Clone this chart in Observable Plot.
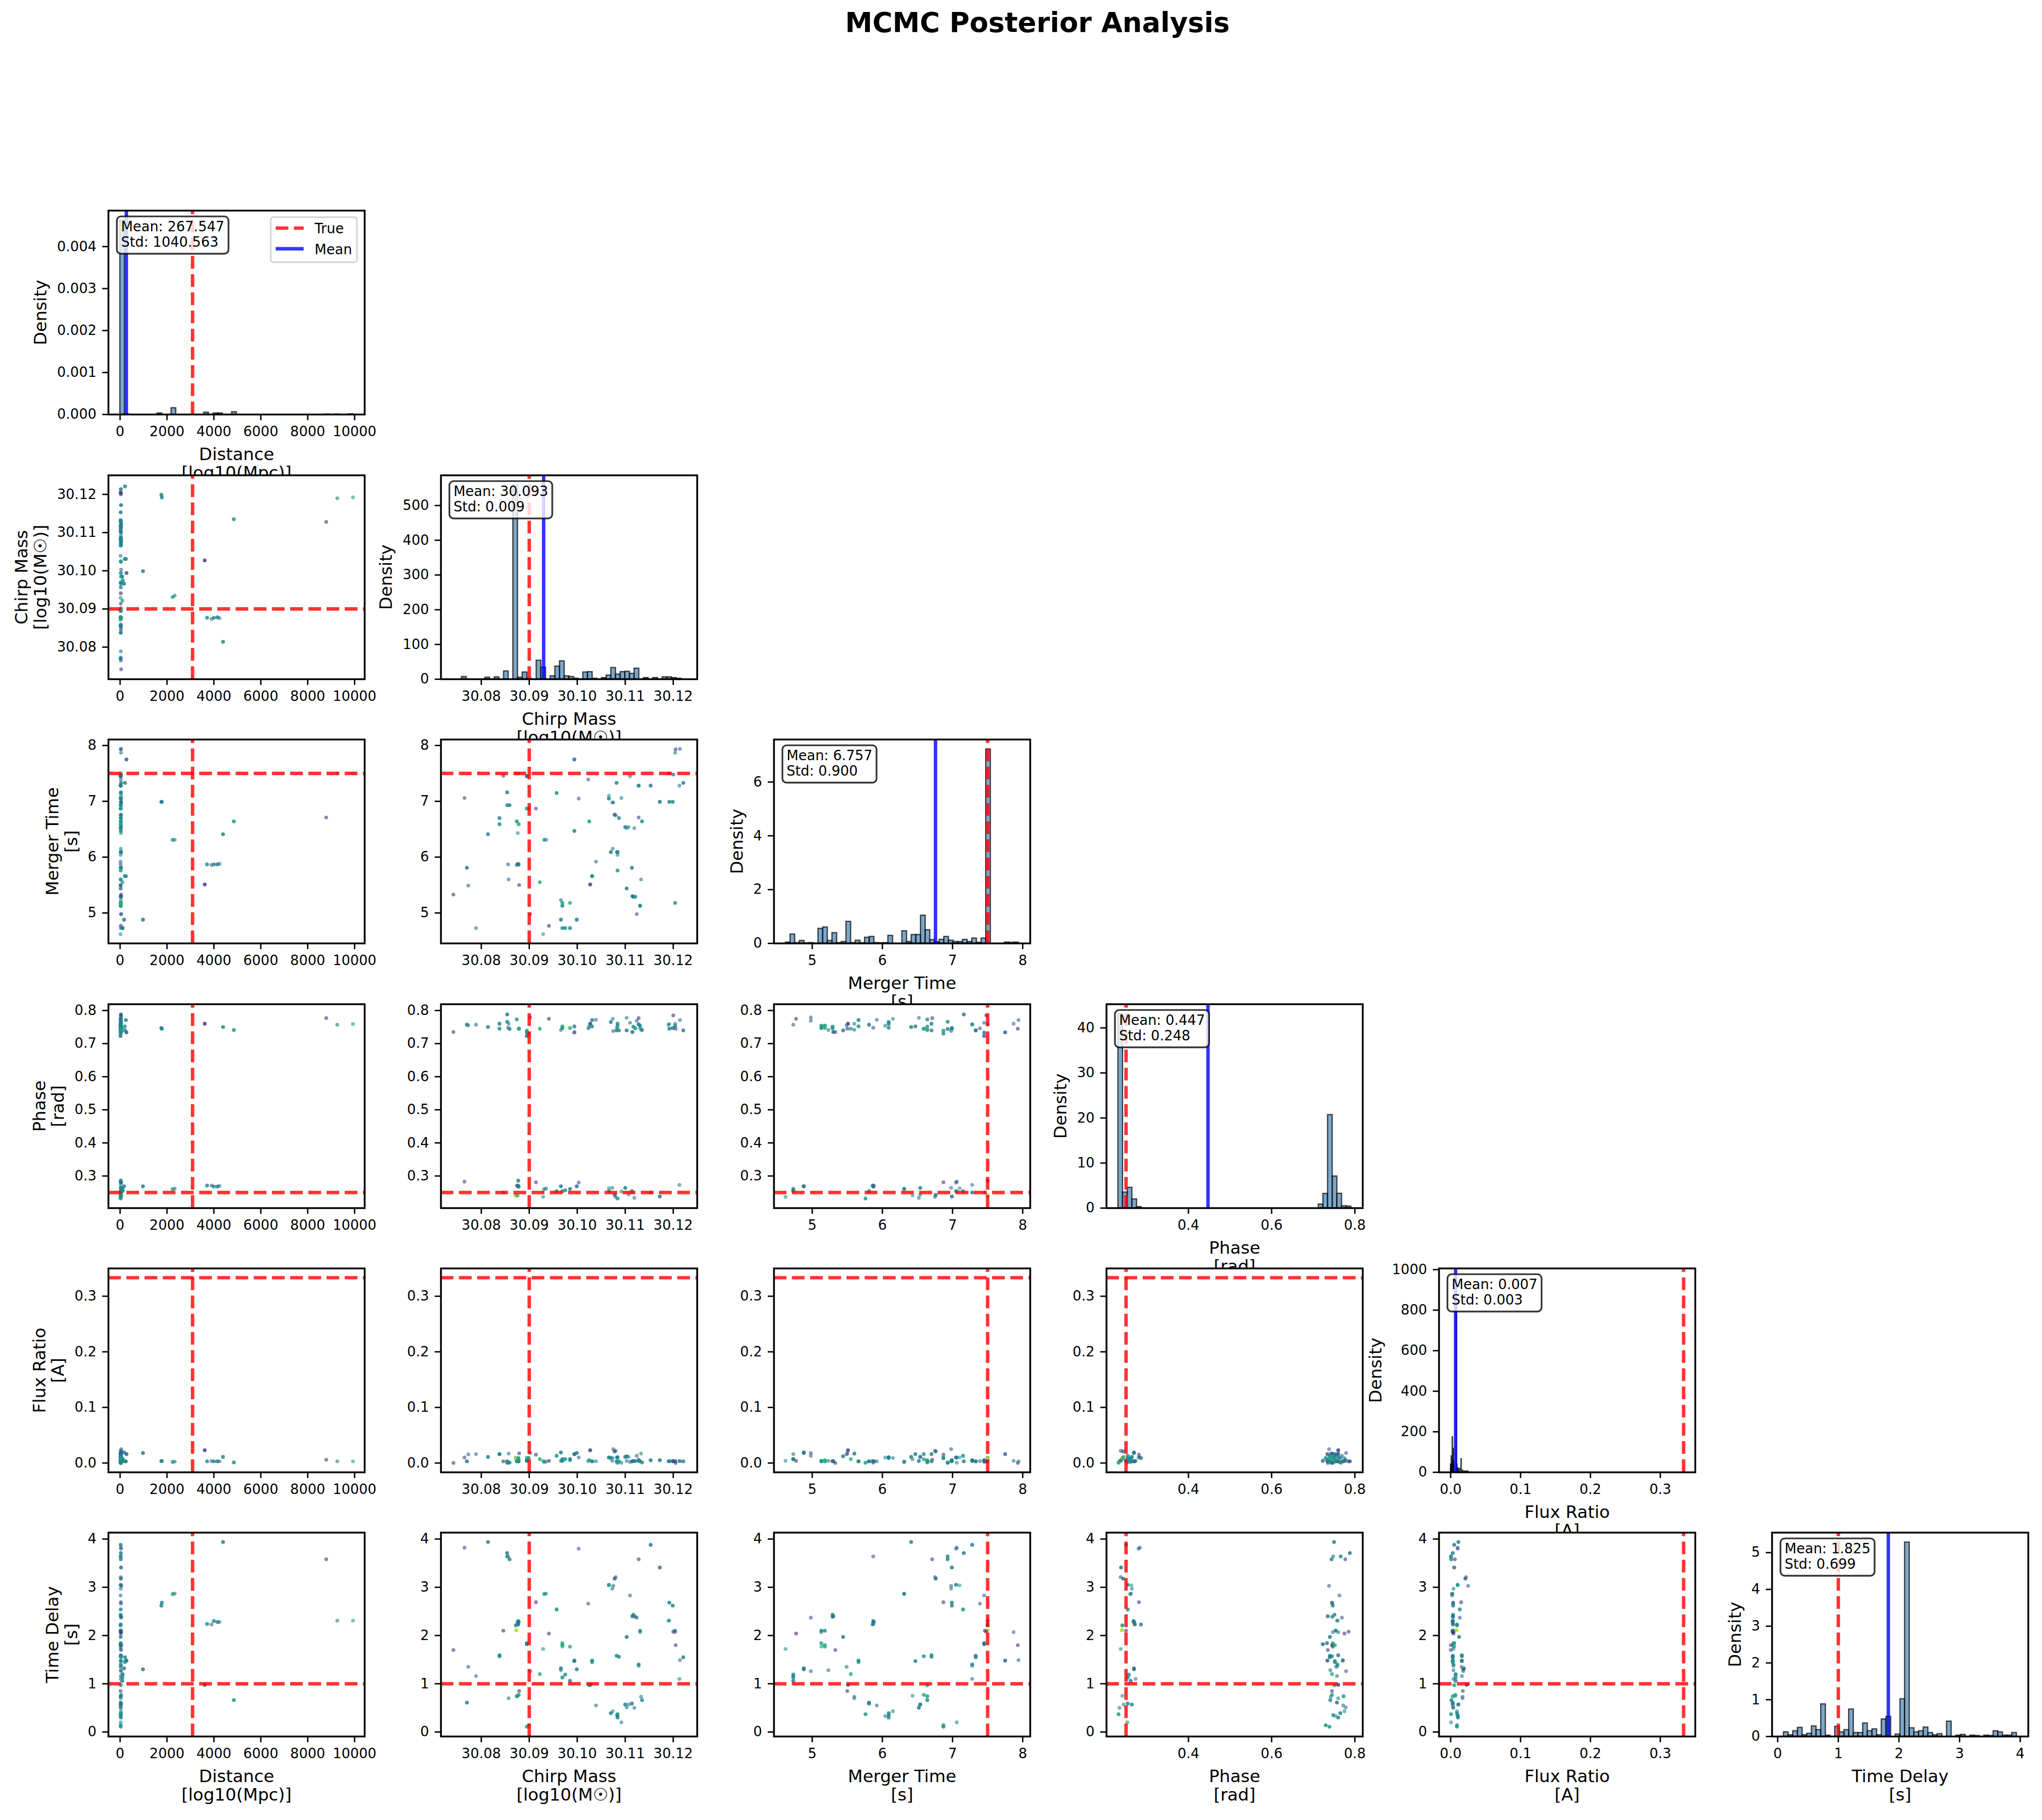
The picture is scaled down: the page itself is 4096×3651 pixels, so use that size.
<!DOCTYPE html>
<html>
<head>
<meta charset="utf-8">
<script src="https://cdn.jsdelivr.net/npm/d3@7"></script>
<script src="https://cdn.jsdelivr.net/npm/@observablehq/plot@0.6"></script>
<style>
html,body{margin:0;padding:0;background:#fff;}
#fig{position:relative;width:4096px;height:3651px;background:#fff;overflow:hidden;font-family:"DejaVu Sans",sans-serif;}
#fig > svg{position:absolute;overflow:visible;}
#title{position:absolute;left:0;width:4162px;top:18px;text-align:center;font:bold 55px/1 "DejaVu Sans",sans-serif;color:#000;}
</style>
</head>
<body>
<div id="fig"><div id="title">MCMC Posterior Analysis</div></div>
<script>
// ---------------- parameters ----------------
const paramNames = ["Distance", "Chirp Mass", "Merger Time", "Phase", "Flux Ratio", "Time Delay"];
const paramUnits = ["[log10(Mpc)]", "[log10(M☉)]", "[s]", "[rad]", "[A]", "[s]"];
const trueValues = [3090, 30.09, 7.5, 0.25, 0.3333, 1.0];
const meanValues = [267.547, 30.093, 6.757, 0.447, 0.007, 1.825];
const stdValues = [1040.563, 0.009, 0.900, 0.248, 0.003, 0.699];

// axis limits and tick labels
const axisDomains = [[-497, 10430], [30.0716, 30.1250], [4.455, 8.107], [0.203, 0.819], [-0.01667, 0.35], [-0.093, 4.133]];
const xTickValues = [[0, 2000, 4000, 6000, 8000, 10000], [30.08, 30.09, 30.10, 30.11, 30.12], [5, 6, 7, 8], [0.4, 0.6, 0.8], [0.0, 0.1, 0.2, 0.3], [0, 1, 2, 3, 4]];
const yTickValues = [[0, 2000, 4000, 6000, 8000, 10000], [30.08, 30.09, 30.10, 30.11, 30.12], [5, 6, 7, 8], [0.3, 0.4, 0.5, 0.6, 0.7, 0.8], [0.0, 0.1, 0.2, 0.3], [0, 1, 2, 3, 4]];
const tickFormats = ["d", ".2f", "d", ".1f", ".1f", "d"];
const densityTicks = [[0, 0.001, 0.002, 0.003, 0.004], [0, 100, 200, 300, 400, 500], [0, 2, 4, 6], [0, 10, 20, 30, 40], [0, 200, 400, 600, 800, 1000], [0, 1, 2, 3, 4, 5]];
const densityFormats = [".3f", "d", "d", "d", "d", "d"];

// ---------------- thinned MCMC samples (scatter panels) ----------------
const distance = [
 4390,25,30,45,35,20,28,8790,30,40,
 30,35,25,40,50,30,2240,2330,20,30,
 1780,35,1760,30,25,40,45,30,9930,9260,
 4000,4150,4240,3710,3900,30,20,30,35,25,
 30,40,20,30,35,25,30,20,30,40,
 25,35,30,20,45,30,25,40,35,210,
 40,270,30,250,200,30,35,25,170,975,
 30,40,100,110,30,100,25,90,3610,30,
 20,40,30,35,20,30,4850,25,40,30,
 35,20,30,25,30,35,25,30,20,35,
 30,25,30];
const chirpMass = [
 30.0814,30.1153,30.0765,30.1003,30.0854,30.0856,30.0854,30.1128,30.0859,30.1172,
 30.1080,30.1078,30.1066,30.1066,30.1075,30.1073,30.0931,30.0935,30.1110,30.0914,
 30.1192,30.1023,30.1199,30.0957,30.1117,30.1121,30.1124,30.1115,30.1192,30.1190,
 30.0877,30.0878,30.0876,30.0877,30.0874,30.0877,30.0872,30.0873,30.0846,30.1131,
 30.1131,30.1204,30.1204,30.0941,30.1200,30.1103,30.0895,30.0895,30.0969,30.0969,
 30.0969,30.0985,30.1205,30.0929,30.0742,30.0838,30.0838,30.1082,30.1087,30.1221,
 30.1214,30.0994,30.0994,30.1031,30.1031,30.1128,30.1128,30.0773,30.0966,30.0999,
 30.0966,30.0902,30.0922,30.0975,30.0789,30.0969,30.1213,30.0985,30.1027,30.1025,
 30.0879,30.0878,30.0874,30.0876,30.1133,30.0857,30.1135,30.0770,30.1114,30.1107,
 30.1100,30.1039,30.1103,30.1119,30.1074,30.1070,30.1084,30.1083,30.1084,30.1084,
 30.1092,30.0899,30.0895];
const mergerTime = [
 6.41,7.28,7.06,7.05,7.16,5.87,6.93,6.71,6.93,6.99,
 6.75,6.76,7.05,7.10,6.98,6.98,6.31,6.31,7.45,6.87,
 6.99,7.39,6.99,7.15,5.29,5.29,4.98,5.30,7.50,7.50,
 5.87,5.87,5.88,5.87,5.86,7.50,7.50,7.50,7.46,5.13,
 5.13,7.87,5.18,4.77,7.48,5.44,7.45,7.45,5.13,5.18,
 5.13,5.18,7.93,4.62,5.33,6.70,6.59,7.33,6.70,7.33,
 7.94,7.75,6.47,5.66,5.66,7.28,7.28,5.49,4.88,4.88,
 5.23,4.98,5.55,4.73,4.73,4.73,7.28,4.73,5.51,6.64,
 5.50,6.59,6.64,6.43,5.60,5.60,6.64,5.81,5.81,6.54,
 6.54,5.92,6.52,6.52,6.15,6.09,5.76,6.09,6.04,6.09,
 7.06,6.87,6.87];
const phase = [
 0.750,0.250,0.283,0.280,0.788,0.748,0.766,0.777,0.744,0.238,
 0.237,0.243,0.254,0.263,0.738,0.264,0.260,0.262,0.763,0.281,
 0.745,0.746,0.747,0.254,0.751,0.746,0.769,0.735,0.759,0.757,
 0.268,0.268,0.270,0.271,0.271,0.286,0.241,0.240,0.250,0.754,
 0.747,0.760,0.754,0.775,0.785,0.740,0.733,0.723,0.747,0.752,
 0.747,0.747,0.745,0.237,0.735,0.760,0.745,0.740,0.740,0.740,
 0.771,0.734,0.752,0.771,0.752,0.758,0.758,0.755,0.269,0.269,
 0.741,0.779,0.745,0.257,0.757,0.254,0.273,0.261,0.760,0.751,
 0.745,0.745,0.773,0.241,0.742,0.760,0.741,0.757,0.254,0.244,
 0.264,0.772,0.778,0.234,0.775,0.765,0.232,0.748,0.754,0.760,
 0.253,0.730,0.739];
const fluxRatio = [
 0.011,0.005,0.010,0.010,0.003,0.0005,0.0005,0.006,0.0007,0.005,
 0.022,0.021,0.010,0.010,0.025,0.004,0.002,0.0025,0.002,0.015,
 0.0035,0.0035,0.0035,0.013,0.0035,0.0035,0.013,0.003,0.003,0.003,
 0.003,0.003,0.003,0.003,0.0035,0.009,0.009,0.0082,0.003,0.003,
 0.003,0.004,0.003,0.004,0.003,0.012,0.005,0.004,0.004,0.004,
 0.004,0.005,0.0002,0.004,0.0002,0.016,0.016,0.003,0.003,0.003,
 0.003,0.016,0.016,0.003,0.003,0.004,0.004,0.0155,0.019,0.018,
 0.004,0.018,0.007,0.007,0.016,0.007,0.004,0.007,0.023,0.005,
 0.0174,0.0067,0.003,0.0067,0.017,0.017,0.001,0.003,0.003,0.011,
 0.011,0.003,0.0037,0.0037,0.009,0.009,0.0005,0.010,0.010,0.0105,
 0.0005,0.009,0.009];
const timeDelay = [
 3.94,3.88,3.82,3.80,3.71,3.64,3.64,3.58,3.58,3.41,
 3.21,3.18,3.05,3.04,3.03,2.97,2.86,2.87,2.83,2.69,
 2.68,2.66,2.62,2.54,2.43,2.39,2.37,2.40,2.31,2.31,
 2.30,2.28,2.28,2.24,2.23,2.23,2.21,2.11,2.10,2.10,
 2.07,2.07,2.10,2.04,2.08,1.97,1.84,1.82,1.84,1.80,
 1.77,1.77,1.80,1.72,1.70,1.59,1.57,1.58,1.56,1.55,
 1.49,1.48,1.47,1.48,1.45,1.40,1.37,1.35,1.32,1.30,
 1.28,1.26,1.20,1.19,1.16,1.13,1.10,1.06,0.98,0.97,
 0.85,0.77,0.74,0.75,0.73,0.70,0.66,0.61,0.59,0.57,
 0.57,0.55,0.51,0.50,0.43,0.39,0.37,0.35,0.33,0.30,
 0.20,0.14,0.11];
// relative log-probability (colour value, viridis)
const logProb = [
 0.45,0.40,0.22,0.30,0.42,0.30,0.50,0.15,0.48,0.38,
 0.30,0.35,0.45,0.55,0.30,0.40,0.62,0.35,0.35,0.15,
 0.45,0.30,0.45,0.50,0.50,0.52,0.30,0.35,0.55,0.40,
 0.50,0.45,0.35,0.50,0.30,0.45,0.50,0.88,0.10,0.50,
 0.45,0.40,0.50,0.10,0.12,0.42,0.45,0.35,0.62,0.62,
 0.55,0.65,0.15,0.50,0.15,0.45,0.50,0.45,0.50,0.45,
 0.35,0.30,0.45,0.45,0.50,0.50,0.45,0.35,0.40,0.40,
 0.35,0.30,0.65,0.50,0.35,0.50,0.40,0.45,0.18,0.55,
 0.15,0.62,0.55,0.50,0.40,0.40,0.50,0.40,0.45,0.40,
 0.45,0.35,0.40,0.40,0.45,0.45,0.55,0.50,0.45,0.45,
 0.45,0.50,0.55];
// how many times the chain repeated each sample
const repeats = [
 2,2,1,1,2,1,2,1,2,2,
 1,2,2,1,1,1,2,1,1,1,
 2,1,2,2,2,2,1,2,1,1,
 2,2,1,2,1,2,2,3,1,2,
 1,1,2,1,1,2,2,2,2,2,
 1,2,1,1,1,2,2,2,2,2,
 1,2,2,2,2,2,1,1,2,2,
 1,1,2,2,1,2,1,2,2,2,
 1,2,2,1,1,1,2,2,2,1,
 2,1,1,1,1,2,2,2,1,2,
 1,2,2];

// ---------------- histogram densities (50 bins each, full chain) ----------------
const histLo = [0, 30.0740, 4.621, 0.231, 0.0, 0.099];
const histHi = [9934, 30.1226, 7.941, 0.791, 0.025, 3.941];
const distanceDensity = [0.004626,0.00001,0,0,0,0,0,0,0.00003,0, 0,0.000155,0,0,0,0,0,0,0.00005,0, 0.00003,0.00003,0,0,0.00006,0,0,0,0,0, 0,0,0,0,0,0,0,0,0,0, 0,0,0,0,0.000005,0,0.000005,0,0,0.00001];
const chirpDensity = [0,0,7,0,0,0,0,5,0,6, 0,23,0,559,5,20,2,0,54,34, 0,9,37,52,9,7,2,0,20,21, 2,0,4,11,33,14,21,22,16,31, 0,4,0,4,0,6,6,4,2,0];
const mergerDensity = [0.04,0.34,0.02,0.10,0.01,0.02,0,0.55,0.60,0.10, 0.39,0.02,0.06,0.81,0.02,0.11,0.02,0.22,0.25,0.02, 0.01,0.02,0.29,0,0,0.46,0.06,0.32,0.32,1.04, 0.50,0.13,0.05,0.14,0.25,0.11,0.06,0.06,0.14,0.06, 0.19,0.03,0.19,7.22,0,0,0,0.04,0.03,0.04];
const phaseDensity = [43.1,3.5,4.56,1.98,0.27,0,0,0,0,0, 0,0,0,0,0,0,0,0,0,0, 0,0,0,0,0,0,0,0,0,0, 0,0,0,0,0,0,0,0,0,0, 0,0,0,0.84,3.2,20.7,7.07,3.23,0.46,0.38];
const fluxDensity = [39,20,80,40,0,174,60,0,117,50, 0,0,0,0,0,0,958,0,39,0, 20,0,18,0,0,0,18,0,0,0, 66,0,0,0,10,0,0,0,5,0, 0,0,5,0,0,0,5,0,0,5];
const delayDensity = [0.12,0.04,0.15,0.24,0.04,0.08,0.28,0.18,0.88,0.03, 0,0.27,0.12,0.18,0.74,0.10,0.10,0.36,0.15,0.20, 0.04,0.47,0.54,0,0.06,1.02,5.28,0.23,0.12,0.15, 0.25,0.10,0.04,0.07,0,0.41,0,0.03,0.05,0, 0.03,0.02,0,0.03,0.02,0.15,0.12,0.03,0.03,0.10];

// ---------------- layout / style ----------------
const samples = [distance, chirpMass, mergerTime, phase, fluxRatio, timeDelay];
const densities = [distanceDensity, chirpDensity, mergerDensity, phaseDensity, fluxDensity, delayDensity];
const W = 514, H = 409;
const COL0 = 217, COLSTEP = 667.3, ROW0 = 422.3, ROWSTEP = 530.4;
const ML = 200, MT = 15, MR = 15, MB = 150;
const FS_TICK = 27.6, FS_LABEL = 34.5, LINE_GAP = 37.7;
const DASH = "25.5 11";
const LW = 6.9;
const FONT = "DejaVu Sans";

const ctx = document.createElement("canvas").getContext("2d");
function textWidth(s, fs) { ctx.font = `${fs}px "${FONT}"`; return ctx.measureText(s).width; }
function ticksWidth(ticks, fmt) { const f = d3.format(fmt); return d3.max(ticks, t => textWidth(f(t), FS_TICK)); }

const pointIndex = repeats.flatMap((n, i) => Array(n).fill(i));

function axes(xt, xf, yt, yf) {
  return [
    Plot.axisX({ticks: xt, tickFormat: d3.format(xf), tickSize: 12, tickPadding: 12, fontSize: FS_TICK, strokeWidth: 2.8, label: null, anchor: "bottom"}),
    Plot.axisY({ticks: yt, tickFormat: d3.format(yf), tickSize: 12, tickPadding: 12, fontSize: FS_TICK, strokeWidth: 2.8, label: null, anchor: "left"})
  ];
}
function xLabelMarks(p) {
  return [paramNames[p], paramUnits[p]].map((t, k) => Plot.text([t], {text: d => d, frameAnchor: "bottom", dy: 91 + k * LINE_GAP, fontSize: FS_LABEL, lineAnchor: "bottom", textAnchor: "middle", fill: "black"}));
}
function yLabelMarks(lines, tickW) {
  const base = 24 + tickW + 13.8 + 7.6;
  const n = lines.length;
  return lines.map((t, k) => Plot.text([t], {text: d => d, frameAnchor: "left", dx: -(base + (n - 1 - k) * LINE_GAP), rotate: -90, fontSize: FS_LABEL, lineAnchor: "bottom", textAnchor: "middle", fill: "black"}));
}
function statBox(p) {
  const lines = [`Mean: ${meanValues[p].toFixed(3)}`, `Std: ${stdValues[p].toFixed(3)}`];
  return (index, scales, values, dims) => {
    const fl = dims.marginLeft, ft = dims.marginTop;
    const fw = dims.width - dims.marginLeft - dims.marginRight;
    const fh = dims.height - dims.marginTop - dims.marginBottom;
    const fs = FS_TICK, pad = 0.3 * fs;
    const tx = fl + 0.05 * fw, ty = ft + 0.05 * fh;
    const b1 = ty + 0.78 * fs, b2 = b1 + 1.12 * fs;
    const tw = d3.max(lines, s => textWidth(s, fs));
    const g = d3.create("svg:g").attr("text-anchor", "start");
    g.append("rect").attr("x", tx - pad).attr("y", ty - pad)
      .attr("width", tw + 2 * pad).attr("height", (b2 + 0.21 * fs + pad) - (ty - pad))
      .attr("rx", pad).attr("ry", pad)
      .attr("fill", "white").attr("fill-opacity", 0.8)
      .attr("stroke", "black").attr("stroke-opacity", 0.8).attr("stroke-width", 3.4);
    lines.forEach((s, k) => g.append("text").attr("x", tx).attr("y", k ? b2 : b1)
      .attr("text-anchor", "start")
      .attr("font-size", fs).attr("font-family", FONT).attr("fill", "black").text(s));
    return g.node();
  };
}
function legendMark(index, scales, values, dims) {
  const fl = dims.marginLeft, ft = dims.marginTop;
  const g = d3.create("svg:g").attr("text-anchor", "start");
  g.append("rect").attr("x", fl + 326).attr("y", ft + 13.7).attr("width", 173).attr("height", 90.3)
    .attr("rx", 5.5).attr("ry", 5.5).attr("fill", "white").attr("fill-opacity", 0.8)
    .attr("stroke", "#cccccc").attr("stroke-opacity", 0.8).attr("stroke-width", 3.4);
  g.append("line").attr("x1", fl + 336).attr("x2", fl + 392).attr("y1", ft + 35.6).attr("y2", ft + 35.6)
    .attr("stroke", "red").attr("stroke-opacity", 0.8).attr("stroke-width", LW).attr("stroke-dasharray", DASH);
  g.append("line").attr("x1", fl + 336).attr("x2", fl + 392).attr("y1", ft + 77).attr("y2", ft + 77)
    .attr("stroke", "blue").attr("stroke-opacity", 0.8).attr("stroke-width", LW);
  [["True", 46.4], ["Mean", 87.8]].forEach(([t, y]) => g.append("text").attr("x", fl + 414).attr("y", ft + y)
    .attr("text-anchor", "start")
    .attr("font-size", FS_TICK).attr("font-family", FONT).attr("fill", "black").text(t));
  return g.node();
}

const common = {
  width: W + ML + MR, height: H + MT + MB,
  marginLeft: ML, marginRight: MR, marginTop: MT, marginBottom: MB,
  style: {background: "transparent", fontFamily: FONT, fontSize: FS_TICK + "px", color: "black", overflow: "visible"}
};

function scatterPanel(r, c) {
  const X = samples[c], Y = samples[r];
  const marks = [
    Plot.frame({fill: "white"}),
    Plot.dot(pointIndex, {x: i => X[i], y: i => Y[i], r: 3.8, fill: i => logProb[i], fillOpacity: 0.6, stroke: "none", clip: true}),
    Plot.ruleX([trueValues[c]], {y1: axisDomains[r][0], y2: axisDomains[r][1], stroke: "red", strokeOpacity: 0.8, strokeWidth: LW, strokeDasharray: DASH}),
    Plot.ruleY([trueValues[r]], {stroke: "red", strokeOpacity: 0.8, strokeWidth: LW, strokeDasharray: DASH}),
    Plot.frame({stroke: "black", strokeWidth: 3.6}),
    ...axes(xTickValues[c], tickFormats[c], yTickValues[r], tickFormats[r])
  ];
  if (r === 5) marks.push(...xLabelMarks(c));
  if (c === 0) marks.push(...yLabelMarks([paramNames[r], paramUnits[r]], ticksWidth(yTickValues[r], tickFormats[r])));
  return Plot.plot({
    ...common,
    x: {domain: axisDomains[c]},
    y: {domain: axisDomains[r]},
    color: {type: "linear", scheme: "viridis", domain: [0, 1]},
    marks
  });
}

function histPanel(p) {
  const dens = densities[p];
  const lo = histLo[p], step = (histHi[p] - histLo[p]) / dens.length;
  const bins = d3.range(dens.length);
  const ymax = d3.max(dens) * 1.05;
  const marks = [
    Plot.frame({fill: "white"}),
    Plot.rect(bins.filter(i => dens[i] > 0), {x1: i => lo + i * step, x2: i => lo + (i + 1) * step, y1: 0, y2: i => dens[i],
      fill: "steelblue", fillOpacity: 0.7, stroke: "black", strokeOpacity: 0.7, strokeWidth: 2.5}),
    Plot.ruleX([trueValues[p]], {y1: 0, y2: ymax, stroke: "red", strokeOpacity: 0.8, strokeWidth: LW, strokeDasharray: DASH}),
    Plot.ruleX([meanValues[p]], {y1: 0, y2: ymax, stroke: "blue", strokeOpacity: 0.8, strokeWidth: LW}),
    statBox(p)
  ];
  if (p === 0) marks.push(legendMark);
  marks.push(Plot.frame({stroke: "black", strokeWidth: 3.6}));
  marks.push(...axes(xTickValues[p], tickFormats[p], densityTicks[p], densityFormats[p]));
  marks.push(...xLabelMarks(p));
  marks.push(...yLabelMarks(["Density"], ticksWidth(densityTicks[p], densityFormats[p])));
  return Plot.plot({
    ...common,
    x: {domain: axisDomains[p]},
    y: {domain: [0, ymax]},
    marks
  });
}

const fig = document.getElementById("fig");
for (let r = 0; r < 6; r++) {
  for (let c = 0; c <= r; c++) {
    const svg = r === c ? histPanel(r) : scatterPanel(r, c);
    svg.style.left = (COL0 + c * COLSTEP - ML) + "px";
    svg.style.top = (ROW0 + r * ROWSTEP - MT) + "px";
    fig.appendChild(svg);
  }
}
</script>
</body>
</html>
